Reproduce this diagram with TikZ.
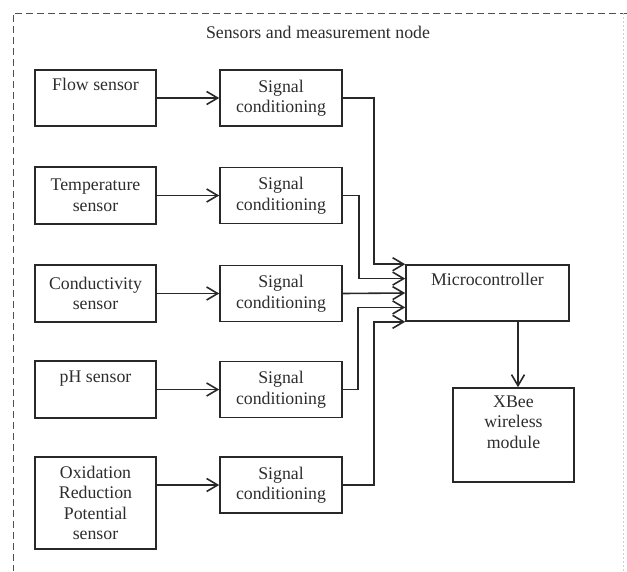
\documentclass[tikz,border=0pt]{standalone}
\usepackage{fontspec}
\setmainfont{Liberation Serif}
\usetikzlibrary{arrows.meta,calc}
\definecolor{ln}{RGB}{40,40,40}
\definecolor{tx}{RGB}{45,45,45}
\definecolor{dsh}{RGB}{80,80,80}
\begin{document}
\begin{tikzpicture}[x=1pt,y=-1pt,
  blk/.style={draw=ln, line width=1.6pt, inner sep=0pt, align=center, text=tx,
    font=\fontsize{17.8}{20.5}\selectfont},
  sen/.style={blk, minimum width=121pt, minimum height=57pt},
  sig/.style={blk, minimum width=122pt, minimum height=56pt},
  arr/.style={draw=ln, line width=1.6pt, -{Straight Barb[length=11pt,width=13pt,line width=1.6pt]}},
  brd/.style={draw=dsh, line width=0.9pt, dash pattern=on 7pt off 4pt}]
\useasboundingbox (0,0) rectangle (627,571);
% frame
\coordinate (tl) at (13,13);
\coordinate (tr) at (627,13);
\coordinate (bl) at (13,571);
\draw[brd] (tr) -- (tl) -- (bl);
\draw[draw=black!18, line width=0.8pt, dash pattern=on 2pt off 2pt] (623,13) -- (623,571);
\node[text=tx, font=\fontsize{17.8}{20.5}\selectfont] (title) at (318,32) {Sensors and measurement node};
% sensors
\node[sen, minimum height=56pt] (f) at (95.5,98) {Flow sensor\\ \strut};
\node[sen] (t) at (95.5,195.5) {Temperature\\ sensor};
\node[sen] (c) at (95.5,293.5) {Conductivity\\ sensor};
\node[sen] (p) at (95.5,389.5) {pH sensor\\ \strut};
\node[sen, minimum height=92pt] (o) at (95.5,503) {Oxidation\\ Reduction\\ Potential\\ sensor};
% signal conditioning
\node[sig] (s1) at (281,98) {Signal\\ conditioning};
\node[sig] (s2) at (281,195.5) {Signal\\ conditioning};
\node[sig] (s3) at (281,293.5) {Signal\\ conditioning};
\node[sig] (s4) at (281,389.5) {Signal\\ conditioning};
\node[sig] (s5) at (281,485) {Signal\\ conditioning};
% microcontroller and xbee
\node[blk, minimum width=163pt, minimum height=56pt] (mc) at (487.5,293) {Microcontroller\\ \strut};
\node[blk, minimum width=121pt, minimum height=94pt] (xb) at (513.5,435) {XBee\\ wireless\\ module\\ \strut};
% sensor -> signal
\foreach \a/\b in {f/s1,t/s2,c/s3,p/s4,o/s5}
  \draw[arr] (\a.east |- \b.west) -- (\b.west);
% signal -> microcontroller
\coordinate (m1) at ($(mc.north west)!0!(mc.south west)$);
\coordinate (m2) at ($(mc.north west)!0.25!(mc.south west)$);
\coordinate (m3) at ($(mc.north west)!0.5!(mc.south west)$);
\coordinate (m4) at ($(mc.north west)!0.75!(mc.south west)$);
\coordinate (m5) at ($(mc.north west)!1!(mc.south west)$);
\draw[arr] (s1.east) -- ++(31,0) |- (m1);
\draw[arr] (s2.east) -- ++(16,0) |- (m2);
\draw[arr] (s3.east) -- (m3);
\draw[arr] (s4.east) -- ++(15,0) |- (m4);
\draw[arr] (s5.east) -- ++(31,0) |- (m5);
% microcontroller -> xbee
\draw[arr] ([xshift=4.5pt]mc.south -| xb.north) -- ([xshift=4.5pt]xb.north);
\end{tikzpicture}
\end{document}
